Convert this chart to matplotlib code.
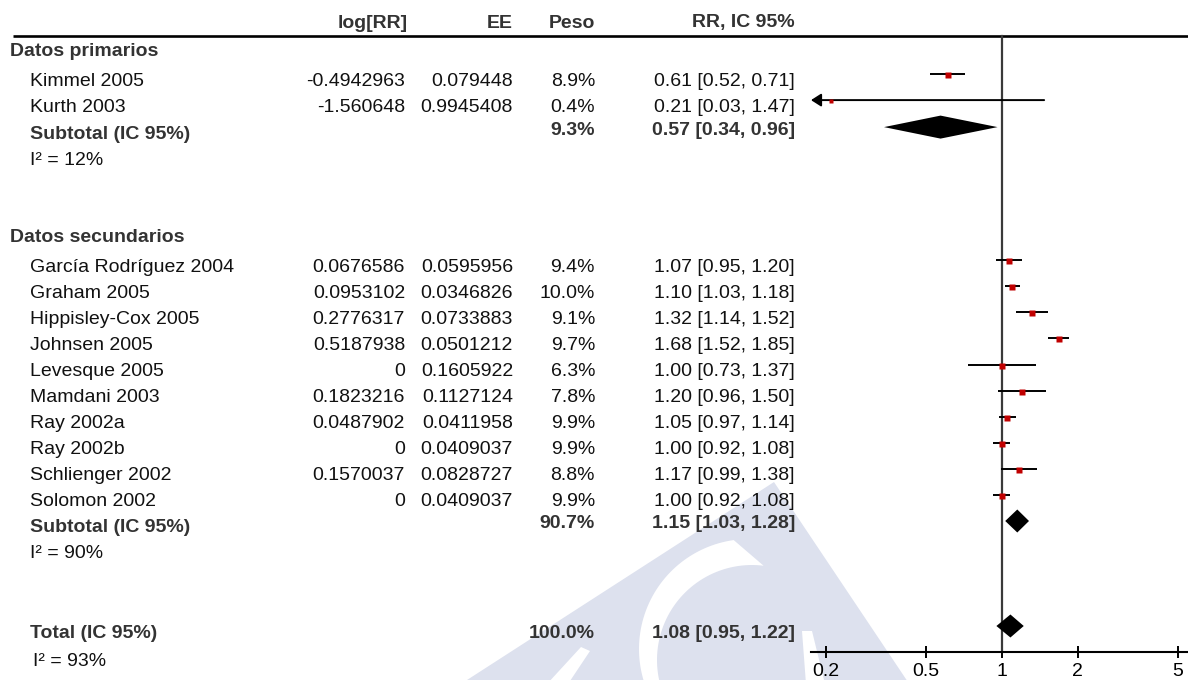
import numpy as np
import matplotlib
matplotlib.use("Agg")
import matplotlib.pyplot as plt
from matplotlib.patches import Polygon
from matplotlib.ticker import NullLocator

plt.rcParams['font.family'] = ['Liberation Sans', 'DejaVu Sans']

# ---------------------------------------------------------------- data
column_headers = ['log[RR]', 'EE', 'Peso', 'RR, IC 95%']
group_titles = ['Datos primarios', 'Datos secundarios']

primary_names = ['Kimmel 2005', 'Kurth 2003']
primary_logrr = [-0.4942963, -1.560648]
primary_se = [0.079448, 0.9945408]
primary_weight = [8.9, 0.4]
primary_rr = [0.61, 0.21]
primary_lo = [0.52, 0.03]
primary_hi = [0.71, 1.47]

secondary_names = ['García Rodríguez 2004', 'Graham 2005', 'Hippisley-Cox 2005',
                   'Johnsen 2005', 'Levesque 2005', 'Mamdani 2003', 'Ray 2002a',
                   'Ray 2002b', 'Schlienger 2002', 'Solomon 2002']
secondary_logrr = [0.0676586, 0.0953102, 0.2776317, 0.5187938, 0, 0.1823216,
                   0.0487902, 0, 0.1570037, 0]
secondary_se = [0.0595956, 0.0346826, 0.0733883, 0.0501212, 0.1605922,
                0.1127124, 0.0411958, 0.0409037, 0.0828727, 0.0409037]
secondary_weight = [9.4, 10.0, 9.1, 9.7, 6.3, 7.8, 9.9, 9.9, 8.8, 9.9]
secondary_rr = [1.07, 1.10, 1.32, 1.68, 1.00, 1.20, 1.05, 1.00, 1.17, 1.00]
secondary_lo = [0.95, 1.03, 1.14, 1.52, 0.73, 0.96, 0.97, 0.92, 0.99, 0.92]
secondary_hi = [1.20, 1.18, 1.52, 1.85, 1.37, 1.50, 1.14, 1.08, 1.38, 1.08]

# pooled estimates: [primary subtotal, secondary subtotal, overall total]
pooled_labels = ['Subtotal (IC 95%)', 'Subtotal (IC 95%)', 'Total (IC 95%)']
pooled_weight = [9.3, 90.7, 100.0]
pooled_rr = [0.57, 1.15, 1.08]
pooled_lo = [0.34, 1.03, 0.95]
pooled_hi = [0.96, 1.28, 1.22]
pooled_i2 = [12, 90, 93]

axis_ticks = [0.2, 0.5, 1, 2, 5]

# ---------------------------------------------------------------- layout (pixels)
W, H = 1188, 680
ROW = 26.1
FS = 14
TDY = 3          # text centre offset relative to its row
BOLD_C = '#333333'
TEXT_C = '#111111'
MARK_C = '#c00000'
col_right = [405, 513, 595, 795]
head_right = [408, 513, 595, 795]
x_group, x_name = 10, 30
y_head, y_rule, y_axis = 20, 36, 652

g1 = 48
p_rows = g1 + 30 + ROW * np.arange(len(primary_names))
p_sub = p_rows[-1] + 27
p_i2 = p_sub + 26
g2 = p_i2 + 77
s_rows = g2 + 30 + ROW * np.arange(len(secondary_names))
s_sub = s_rows[-1] + 26
s_i2 = s_sub + 26
t_row = s_i2 + 79
t_i2 = t_row + 28
pooled_rows = [p_sub, s_sub, t_row]
i2_rows = [p_i2, s_i2, t_i2]
i2_x = [30, 30, 33]

# forest panel geometry: position of RR = 1 and pixels per decade
x_left_px, ref_px, decade_px = 811, 1002, 251.8
xmin = 10 ** ((x_left_px - ref_px) / decade_px)
xmax = 10 ** ((W - ref_px) / decade_px)

fig = plt.figure(figsize=(W / 100, H / 100), dpi=100)

# ---------------------------------------------------------------- table panel
ax_t = fig.add_axes([0, 0, 1, 1])
ax_t.set_xlim(0, W)
ax_t.set_ylim(H, 0)
ax_t.axis('off')
ax_t.set_zorder(0)


def arc_pts(cx, cy, r, a0, a1, n=60):
    a = np.radians(np.linspace(a0, a1, n))
    return np.column_stack([cx + r * np.cos(a), cy - r * np.sin(a)])


# faint background logo
wm_c = '#dde1ee'
ax_t.add_patch(Polygon([(774, 482), (436, 700), (920, 700)], closed=True,
                       facecolor=wm_c, edgecolor='none', zorder=0))
crescent = np.vstack([arc_pts(749, 649, 110, 98, 215),
                      arc_pts(752, 660, 95, 215, 83)])
ax_t.add_patch(Polygon(crescent, closed=True, facecolor='white',
                       edgecolor='none', zorder=0.1))
ax_t.add_patch(Polygon([(581, 647), (590, 651), (568, 684), (547, 684)],
                       closed=True, facecolor='white', edgecolor='none', zorder=0.1))
ax_t.add_patch(Polygon([(802, 631), (812, 631), (825, 684), (806, 684)],
                       closed=True, facecolor='white', edgecolor='none', zorder=0.1))

# header
for lab, xr in zip(column_headers, head_right):
    ax_t.text(xr, y_head + TDY, lab, ha='right', va='center', fontsize=FS,
              fontweight='bold', color=BOLD_C)
ax_t.plot([13, W], [y_rule, y_rule], color='black', lw=1.9, zorder=2,
          solid_capstyle='butt')


def study_rows(names, logrr, se, weight, rr, lo, hi, ys):
    for i, y in enumerate(ys):
        ax_t.text(x_name, y + TDY, names[i], ha='left', va='center', fontsize=FS,
                  color=TEXT_C)
        vals = ['%.7g' % logrr[i], '%.7g' % se[i], '%.1f%%' % weight[i],
                '%.2f [%.2f, %.2f]' % (rr[i], lo[i], hi[i])]
        for v, xr in zip(vals, col_right):
            ax_t.text(xr, y + TDY, v, ha='right', va='center', fontsize=FS,
                      color=TEXT_C)


for title, y in zip(group_titles, [g1, g2]):
    ax_t.text(x_group, y + TDY, title, ha='left', va='center', fontsize=FS,
              fontweight='bold', color=BOLD_C)

study_rows(primary_names, primary_logrr, primary_se, primary_weight,
           primary_rr, primary_lo, primary_hi, p_rows)
study_rows(secondary_names, secondary_logrr, secondary_se, secondary_weight,
           secondary_rr, secondary_lo, secondary_hi, s_rows)

for k, y in enumerate(pooled_rows):
    dy = -4 if k < 2 else 0
    ax_t.text(x_name, y + TDY, pooled_labels[k], ha='left', va='center',
              fontsize=FS, fontweight='bold', color=BOLD_C)
    ax_t.text(col_right[2], y + dy + TDY, '%.1f%%' % pooled_weight[k], ha='right',
              va='center', fontsize=FS, fontweight='bold', color=BOLD_C)
    ax_t.text(col_right[3], y + dy + TDY,
              '%.2f [%.2f, %.2f]' % (pooled_rr[k], pooled_lo[k], pooled_hi[k]),
              ha='right', va='center', fontsize=FS, fontweight='bold',
              color=BOLD_C)
    ax_t.text(i2_x[k], i2_rows[k] + TDY, 'I² = %d%%' % pooled_i2[k], ha='left',
              va='center', fontsize=FS, color=TEXT_C)

# ---------------------------------------------------------------- forest panel
ax_f = fig.add_axes([x_left_px / W, 0, 1 - x_left_px / W, 1])
ax_f.set_zorder(1)
ax_f.patch.set_visible(False)
ax_f.set_xscale('log')
ax_f.set_xlim(xmin, xmax)
ax_f.set_ylim(H, 0)
for side in ['top', 'right', 'left']:
    ax_f.spines[side].set_visible(False)
ax_f.spines['bottom'].set_position(('data', y_axis))
ax_f.spines['bottom'].set_linewidth(1.5)
ax_f.set_yticks([])
ax_f.set_xticks(axis_ticks, labels=['%g' % t for t in axis_ticks])
ax_f.xaxis.set_minor_locator(NullLocator())
ax_f.tick_params(axis='x', direction='inout', length=8.6, width=1.4,
                 labelsize=FS, pad=3.8, colors='black')

# line of no effect
ax_f.plot([1, 1], [y_rule, y_axis], color='#3a3a3a', lw=1.6, zorder=2)


def draw_studies(rr, lo, hi, weight, ys):
    for i, y in enumerate(ys):
        yl = y - 4
        if lo[i] < xmin:
            ax_f.annotate('', xy=(xmin, yl), xytext=(hi[i], yl),
                          arrowprops=dict(arrowstyle='-|>,head_length=0.5,head_width=0.32',
                                          color='black', lw=1.4, shrinkA=0,
                                          shrinkB=0, mutation_scale=12),
                          annotation_clip=False, zorder=3)
        else:
            ax_f.plot([lo[i], hi[i]], [yl, yl], color='black', lw=1.4,
                      solid_capstyle='butt', zorder=3)
        side_px = 3.5 + 1.0 * np.sqrt(weight[i])
        ax_f.plot([rr[i]], [y - 3], marker='s', linestyle='none',
                  markersize=side_px * 0.72, markerfacecolor=MARK_C,
                  markeredgecolor='none', zorder=4)


draw_studies(primary_rr, primary_lo, primary_hi, primary_weight, p_rows)
draw_studies(secondary_rr, secondary_lo, secondary_hi, secondary_weight, s_rows)

half_h = 11.5
for k, y in enumerate(pooled_rows):
    yc = y - 4
    ax_f.fill([pooled_lo[k], pooled_rr[k], pooled_hi[k], pooled_rr[k]],
              [yc, yc - half_h, yc, yc + half_h], color='black', lw=0,
              zorder=3)

fig.savefig('out.png', dpi=100)
